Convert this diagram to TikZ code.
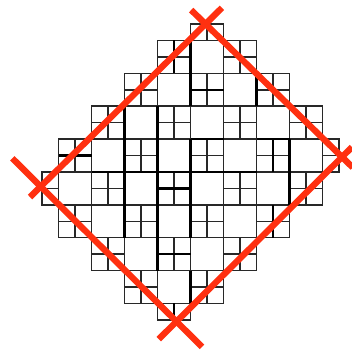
\documentclass[tikz,border=0pt]{standalone}
\definecolor{redx}{RGB}{255,48,16}
\definecolor{gridc}{RGB}{40,40,40}
\begin{document}
\begin{tikzpicture}[x=1pt,y=-1pt,
  gridline/.style={draw=gridc,line width=1.5pt},
  heavy/.style={draw=black,line width=2.5pt},
  redline/.style={draw=redx,line width=6.3pt}]
\useasboundingbox (0,0) rectangle (352,351);
\fill[white] (0,0) rectangle (352,351);
\begin{scope}[shift={(42,24)},x=16.5pt,y=-16.44pt]
  % 2x2 blocks: big square or four small squares (checkerboard)
  \foreach \R/\Ca/\Cb in {1/7/11,3/5/13,5/3/15,7/1/15,9/1/15,11/1/13,13/3/11,15/5/9}{
    \pgfmathtruncatemacro\Cn{\Ca+2}
    \foreach \C in {\Ca,\Cn,...,\Cb}{
      \draw[gridline] (\C,\R) rectangle ++(2,2);
      \pgfmathtruncatemacro\kind{mod((\R-1)/2+(\C-1)/2,2)}
      \ifnum\kind=1
        \draw[gridline] (\C+1,\R) -- ++(0,2) (\C,\R+1) -- ++(2,0);
      \fi
    }
  }
  % half blocks at the four tips
  \draw[gridline] (9,0) rectangle (11,1) (10,0) -- (10,1);
  \draw[gridline] (7,17) rectangle (9,18) (8,17) -- (8,18);
  \draw[gridline] (0,9) rectangle (1,11) (0,10) -- (1,10);
  \draw[gridline] (17,7) rectangle (18,9) (17,8) -- (18,8);
  % heavy segments
  \foreach \c/\ra/\rb in {8/1/3,9/1/5,13/3/5,5/5/13,7/5/15,9/7/13,14/7/9,14/11/13,15/7/11,8/17/18,9/15/17}{
    \draw[heavy] (\c,\ra) -- (\c,\rb);
  }
  \foreach \r/\ca/\cb in {4/9/11,7/9/11,7/13/15,8/1/3,9/3/13,10/7/9,14/7/9}{
    \draw[heavy] (\ca,\r) -- (\cb,\r);
  }
\end{scope}
% red rotated rectangle with crossed corners
\coordinate (T) at (205.5,24);
\coordinate (R) at (342,157);
\coordinate (B) at (176.5,321.5);
\coordinate (L) at (40.7,186.5);
\draw[redline, shorten <=-20pt, shorten >=-15pt] (T) -- (R);
\draw[redline, shorten <=-14pt, shorten >=-25pt] (R) -- (B);
\draw[redline, shorten <=-36pt, shorten >=-40pt] (B) -- (L);
\draw[redline, shorten <=-15pt, shorten >=-23pt] (L) -- (T);
\end{tikzpicture}
\end{document}
